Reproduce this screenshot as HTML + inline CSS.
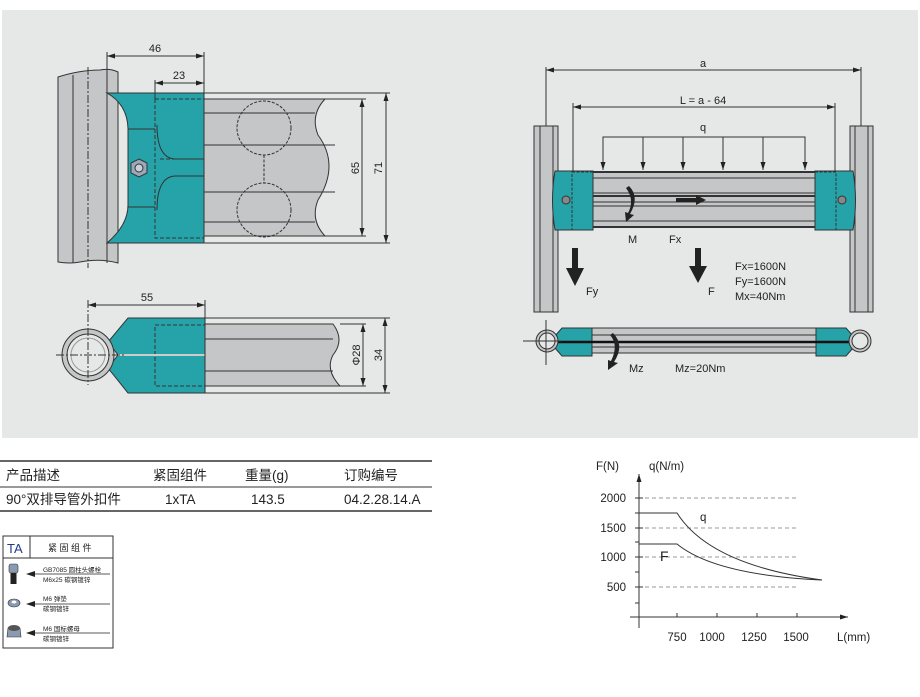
<!DOCTYPE html>
<html><head><meta charset="utf-8"><style>
body{margin:0;background:#fff;width:920px;height:697px;overflow:hidden}
svg{display:block}
text{font-family:"Liberation Sans","Noto Sans CJK SC",sans-serif;fill:#222}
</style></head><body>
<svg width="920" height="697" viewBox="0 0 920 697" xmlns="http://www.w3.org/2000/svg">
<defs>
<marker id="ar" markerWidth="8" markerHeight="6" refX="8" refY="3" orient="auto"><path d="M0,0.5 L8,3 L0,5.5z" fill="#222"/></marker>
<marker id="al" markerWidth="8" markerHeight="6" refX="0" refY="3" orient="auto"><path d="M8,0.5 L0,3 L8,5.5z" fill="#222"/></marker>
</defs>
<rect x="2" y="10" width="916" height="428" fill="#e6e8e8"/>

<!-- TOP LEFT -->
<g stroke="#333" stroke-width="1">
<path d="M58,77 Q80,70 100,70 Q110,68 118,72 L118,263 Q100,258 80,262 Q70,264 58,262z" fill="#c4c6c7"/>
<line x1="73" y1="75" x2="73" y2="263"/><line x1="107" y1="70" x2="107" y2="263"/>
<line x1="88" y1="67" x2="88" y2="268" stroke-dasharray="8,2,2,2"/>
<path d="M107,93 L204,93 L204,243 L107,243 Q128,225 128,205 L128,130 Q128,105 107,93z" fill="#25a3a8"/>
<path d="M107,93 L107,243" />
<rect x="155" y="99" width="49" height="139" fill="none" stroke-dasharray="4,2"/>
<line x1="128" y1="129" x2="155" y2="129"/><line x1="128" y1="207" x2="155" y2="207"/>
<path d="M157,125 Q157,158 175,159 L204,159 M157,210 Q157,177 175,176 L204,176" fill="none"/>
<line x1="160" y1="159" x2="204" y2="159" stroke-dasharray="4,2"/>
<polygon points="139,159 147,163 147,173 139,177 131,173 131,163" fill="#9aa8b8"/>
<circle cx="139" cy="168" r="4" fill="#c8d0dc"/>
<path d="M204,99 L325,99 Q310,115 318,135 Q340,165 318,200 Q310,220 325,236 L204,236z" fill="#c4c6c7"/>
<line x1="204" y1="113" x2="315" y2="113"/><line x1="204" y1="145" x2="335" y2="145"/><line x1="204" y1="192" x2="335" y2="192"/><line x1="204" y1="222" x2="315" y2="222"/>
<line x1="204" y1="93" x2="390" y2="93"/><line x1="204" y1="243" x2="390" y2="243"/>
<line x1="325" y1="99" x2="366" y2="99"/><line x1="325" y1="236" x2="366" y2="236"/>
<g fill="none" stroke-dasharray="3,1.5"><circle cx="264" cy="128" r="27"/><circle cx="264" cy="210" r="27"/><line x1="264" y1="155" x2="264" y2="183"/></g>
<line x1="362" y1="99" x2="362" y2="236" marker-start="url(#al)" marker-end="url(#ar)"/>
<line x1="386" y1="93" x2="386" y2="243" marker-start="url(#al)" marker-end="url(#ar)"/>
<line x1="107" y1="52" x2="107" y2="93"/><line x1="204" y1="52" x2="204" y2="93"/><line x1="155" y1="80" x2="155" y2="99"/>
<line x1="107" y1="56" x2="204" y2="56" marker-start="url(#al)" marker-end="url(#ar)"/>
<line x1="155" y1="83" x2="204" y2="83" marker-start="url(#al)" marker-end="url(#ar)"/>
</g>
<text x="155" y="52" font-size="11" text-anchor="middle">46</text>
<text x="179" y="79" font-size="11" text-anchor="middle">23</text>
<text transform="translate(359,168) rotate(-90)" font-size="11" text-anchor="middle">65</text>
<text transform="translate(382,168) rotate(-90)" font-size="11" text-anchor="middle">71</text>

<!-- BOTTOM LEFT -->
<g stroke="#333" stroke-width="1">
<path d="M128,318 L205,318 L205,393 L128,393 L108,368 L118,355 L108,342z" fill="#25a3a8"/>
<rect x="155" y="325" width="50" height="61" fill="none" stroke-dasharray="4,2"/>
<line x1="118" y1="355" x2="205" y2="355" stroke-width="2" stroke="#ccc"/>
<path d="M205,324 L333,324 Q345,340 333,355 Q325,370 340,386 L205,386z" fill="#c4c6c7"/>
<line x1="205" y1="339" x2="333" y2="339"/><line x1="205" y1="371" x2="333" y2="371"/>
<line x1="205" y1="318" x2="390" y2="318"/><line x1="205" y1="393" x2="390" y2="393"/>
<line x1="340" y1="324" x2="366" y2="324"/><line x1="340" y1="386" x2="366" y2="386"/>
<circle cx="88" cy="355" r="26" fill="#c4c6c7"/><circle cx="88" cy="355" r="21" fill="#e6e8e8"/>
<circle cx="88" cy="355" r="17" fill="none" stroke="#999"/>
<line x1="56" y1="355" x2="125" y2="355" stroke-dasharray="8,2,2,2"/>
<line x1="88" y1="300" x2="88" y2="385" stroke-dasharray="8,2,2,2"/>
<line x1="205" y1="300" x2="205" y2="318"/>
<line x1="88" y1="305" x2="205" y2="305" marker-start="url(#al)" marker-end="url(#ar)"/>
<line x1="363" y1="324" x2="363" y2="386" marker-start="url(#al)" marker-end="url(#ar)"/>
<line x1="385" y1="318" x2="385" y2="393" marker-start="url(#al)" marker-end="url(#ar)"/>
</g>
<text x="147" y="301" font-size="11" text-anchor="middle">55</text>
<text transform="translate(360,355) rotate(-90)" font-size="11" text-anchor="middle">Φ28</text>
<text transform="translate(382,355) rotate(-90)" font-size="11" text-anchor="middle">34</text>

<!-- RIGHT DIAGRAM -->
<g stroke="#333" stroke-width="1">
<line x1="546" y1="67" x2="546" y2="126"/><line x1="861" y1="67" x2="861" y2="126"/>
<line x1="546" y1="70" x2="861" y2="70" marker-start="url(#al)" marker-end="url(#ar)"/>
<line x1="573" y1="103" x2="573" y2="200"/><line x1="835" y1="103" x2="835" y2="200"/>
<line x1="573" y1="107" x2="835" y2="107" marker-start="url(#al)" marker-end="url(#ar)"/>
<polyline points="603,170 603,137 805,137 805,170" fill="none"/>
<g marker-end="url(#ar)"><line x1="603" y1="137" x2="603" y2="170"/><line x1="643" y1="137" x2="643" y2="170"/><line x1="683" y1="137" x2="683" y2="170"/><line x1="723" y1="137" x2="723" y2="170"/><line x1="763" y1="137" x2="763" y2="170"/><line x1="805" y1="137" x2="805" y2="170"/></g>
<rect x="534" y="126" width="24" height="186" fill="#c4c6c7"/><line x1="540" y1="126" x2="540" y2="312"/><line x1="553" y1="126" x2="553" y2="312"/>
<rect x="850" y="126" width="23" height="186" fill="#c4c6c7"/><line x1="855" y1="126" x2="855" y2="312"/><line x1="868" y1="126" x2="868" y2="312"/>
<rect x="593" y="172" width="222" height="55" fill="#c4c6c7"/>
<line x1="593" y1="178" x2="815" y2="178"/><line x1="593" y1="193" x2="815" y2="193"/><line x1="593" y1="196" x2="815" y2="196" stroke-width="2"/><line x1="593" y1="202" x2="815" y2="202"/><line x1="593" y1="206" x2="815" y2="206"/><line x1="593" y1="221" x2="815" y2="221"/>
<line x1="593" y1="172" x2="815" y2="172" stroke-width="2"/><line x1="593" y1="227" x2="815" y2="227" stroke-width="2"/>
<path d="M555,171 L593,171 L593,230 L555,230 Q550,200 555,171z" fill="#25a3a8"/>
<rect x="572" y="172" width="21" height="58" fill="none" stroke-dasharray="3,1.5"/>
<circle cx="566" cy="200" r="4" fill="#888"/>
<path d="M815,171 L853,171 Q858,200 853,230 L815,230z" fill="#25a3a8"/>
<rect x="815" y="172" width="21" height="58" fill="none" stroke-dasharray="3,1.5"/>
<circle cx="842" cy="200" r="4" fill="#888"/>
<!-- bottom beam -->
<rect x="590" y="328" width="228" height="25" fill="#c4c6c7"/>
<line x1="590" y1="335" x2="818" y2="335"/><line x1="590" y1="347" x2="818" y2="347"/>
<path d="M562,328 L592,328 L592,356 L562,356 L555,348 L555,336z" fill="#25a3a8"/>
<path d="M816,328 L846,328 L853,336 L853,348 L846,356 L816,356z" fill="#25a3a8"/>
<line x1="555" y1="342" x2="853" y2="342" stroke-width="2.5" stroke="#111"/>
<circle cx="547" cy="341" r="11" fill="#c4c6c7"/><circle cx="547" cy="341" r="8" fill="#e6e8e8"/>
<circle cx="860" cy="341" r="11" fill="#c4c6c7"/><circle cx="860" cy="341" r="8" fill="#e6e8e8"/>
<line x1="523" y1="341" x2="562" y2="341"/><line x1="546" y1="320" x2="546" y2="365"/>
</g>
<!-- bold arrows -->
<g fill="#222">
<path d="M629,186 Q640,197 630,214 L634,215 L626,222 L625,212 L628,213 Q635,200 626,188z"/>
<path d="M676,198 L696,198 L696,195 L706,200 L696,205 L696,202 L676,202z"/>
<path d="M572,248 L578,248 L578,268 L584,268 L575,286 L566,268 L572,268z"/>
<path d="M695,248 L701,248 L701,266 L707,266 L698,283 L689,266 L695,266z"/>
<path d="M613,333 Q625,345 614,362 L618,363 L608,370 L608,360 L611,361 Q619,345 610,335z"/>
</g>
<g font-size="11">
<text x="703" y="67" text-anchor="middle">a</text>
<text x="703" y="104" text-anchor="middle">L = a - 64</text>
<text x="703" y="131" text-anchor="middle">q</text>
<text x="628" y="243">M</text><text x="669" y="243">Fx</text>
<text x="586" y="295">Fy</text><text x="708" y="295">F</text>
<text x="735" y="270">Fx=1600N</text><text x="735" y="285">Fy=1600N</text><text x="735" y="300">Mx=40Nm</text>
<text x="629" y="372">Mz</text><text x="675" y="372">Mz=20Nm</text>
</g>

<!-- TABLE -->
<line x1="0" y1="461" x2="432" y2="461" stroke="#333" stroke-width="1.5"/>
<line x1="0" y1="487" x2="432" y2="487" stroke="#333"/>
<line x1="0" y1="511" x2="432" y2="511" stroke="#333" stroke-width="1.5"/>
<g font-size="13.5">
<text x="6" y="480">产品描述</text><text x="153" y="480">紧固组件</text><text x="245" y="480">重量(g)</text><text x="344" y="480">订购编号</text>
<text x="6" y="504">90°双排导管外扣件</text><text x="165" y="504">1xTA</text><text x="251" y="504">143.5</text><text x="344" y="504">04.2.28.14.A</text>
</g>

<!-- TA BOX -->
<rect x="3" y="536" width="110" height="112" fill="none" stroke="#333"/>
<line x1="3" y1="558" x2="113" y2="558" stroke="#333"/><line x1="30" y1="536" x2="30" y2="558" stroke="#333"/>
<text x="7" y="553" font-size="13" style="fill:#233a8a">TA</text>
<text x="48" y="551" font-size="9">紧 固 组 件</text>
<rect x="9" y="564" width="9" height="9" rx="2" fill="#8a9ab0" stroke="#333" stroke-width="0.6"/>
<rect x="10.5" y="573" width="6" height="11" fill="#222"/>
<ellipse cx="14" cy="603" rx="6" ry="4" fill="#8a9ab0" stroke="#333" stroke-width="0.6"/><ellipse cx="14" cy="602" rx="2.5" ry="1.5" fill="#fff"/>
<path d="M8,628 L20,628 L21,637 L7,637z" fill="#8a9ab0" stroke="#333" stroke-width="0.6"/><ellipse cx="14" cy="628" rx="6" ry="3" fill="#555"/>
<g stroke="#222" stroke-width="0.8">
<line x1="28" y1="574" x2="110" y2="574"/><line x1="28" y1="604" x2="110" y2="604"/><line x1="28" y1="633" x2="110" y2="633"/>
</g>
<g fill="#222"><path d="M26,574 L35,571 L35,577z"/><path d="M26,604 L35,601 L35,607z"/><path d="M26,633 L35,630 L35,636z"/></g>
<g font-size="6.5">
<text x="43" y="572">GB7085 圆柱头螺栓</text><text x="43" y="582">M6x25 碳钢镀锌</text>
<text x="43" y="601">M6 弹垫</text><text x="43" y="611">碳钢镀锌</text>
<text x="43" y="631">M6 国标螺母</text><text x="43" y="641">碳钢镀锌</text>
</g>

<!-- CHART -->
<g stroke="#333" stroke-width="1" fill="none">
<line x1="639" y1="628" x2="639" y2="474" marker-end="url(#ar)"/>
<line x1="630" y1="617" x2="848" y2="617" marker-end="url(#ar)"/>
<g stroke="#999" stroke-dasharray="4,3"><line x1="645" y1="498" x2="797" y2="498"/><line x1="645" y1="528" x2="797" y2="528"/><line x1="645" y1="557" x2="797" y2="557"/><line x1="645" y1="587" x2="797" y2="587"/></g>
<g><line x1="635" y1="498" x2="643" y2="498"/><line x1="635" y1="528" x2="643" y2="528"/><line x1="635" y1="557" x2="643" y2="557"/><line x1="635" y1="587" x2="643" y2="587"/><line x1="635" y1="542" x2="639" y2="542"/><line x1="635" y1="572" x2="639" y2="572"/><line x1="635" y1="603" x2="639" y2="603"/><line x1="635" y1="513" x2="639" y2="513"/>
<line x1="677" y1="613" x2="677" y2="617"/><line x1="717" y1="613" x2="717" y2="617"/><line x1="757" y1="613" x2="757" y2="617"/><line x1="797" y1="613" x2="797" y2="617"/></g>
<path d="M639,513 L677,513 Q710,565 822,580"/>
<path d="M639,544 L677,544 Q715,575 822,580"/>
</g>
<g font-size="11.5">
<text x="596" y="470">F(N)</text><text x="649" y="470">q(N/m)</text>
<text x="626" y="502" text-anchor="end">2000</text><text x="626" y="532" text-anchor="end">1500</text><text x="626" y="561" text-anchor="end">1000</text><text x="626" y="591" text-anchor="end">500</text>
<text x="677" y="641" text-anchor="middle">750</text><text x="712" y="641" text-anchor="middle">1000</text><text x="754" y="641" text-anchor="middle">1250</text><text x="796" y="641" text-anchor="middle">1500</text>
<text x="837" y="641">L(mm)</text>
<text x="700" y="521">q</text><text x="660" y="561" font-size="14">F</text>
</g>
</svg>
</body></html>
